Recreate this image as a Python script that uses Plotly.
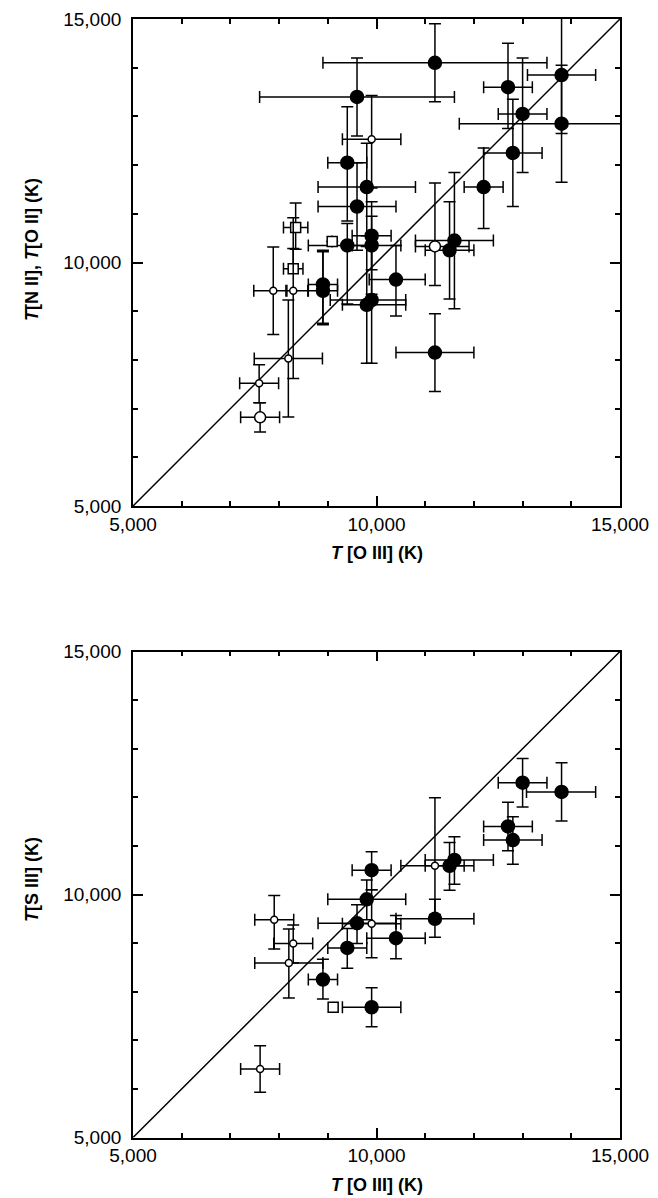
import plotly.graph_objects as go

# ---------------- Top panel: T[N II], T[O II] vs T[O III] ----------------
top_filled_x = [11200, 9600, 12700, 13800, 13000, 13800, 12800, 12200, 9400, 9800, 9600,
                9900, 9400, 9900, 11600, 11500, 10400, 11200, 8900, 8900, 9800, 9900]
top_filled_y = [14100, 13400, 13600, 13850, 13050, 12850, 12250, 11550, 12050, 11550, 11150,
                10550, 10350, 10350, 10450, 10250, 9650, 8150, 9550, 9420, 9130, 9230]
top_filled_xm = [2300, 2000, 500, 700, 500, 2100, 600, 400, 400, 1000, 800,
                 400, 800, 400, 800, 500, 550, 800, 300, 300, 500, 850]
top_filled_xp = [2300, 2000, 500, 700, 500, 2100, 600, 400, 400, 1000, 800,
                 400, 400, 600, 800, 500, 600, 800, 300, 300, 800, 700]
top_filled_ym = [800, 800, 850, 1200, 1200, 1200, 1100, 850, 1200, 1000, 900,
                 700, 1200, 1000, 1400, 1000, 750, 800, 800, 700, 1200, 1300]
top_filled_yp = [800, 800, 900, 1200, 1150, 1200, 1100, 800, 1150, 900, 900,
                 700, 450, 600, 1400, 1000, 700, 800, 700, 800, 1200, 1200]

top_open_x = [9900, 7880, 8290, 8190, 7590]
top_open_y = [12530, 9420, 9420, 8030, 7520]
top_open_xm = [600, 400, 150, 700, 400]
top_open_xp = [600, 280, 300, 700, 400]
top_open_ym = [1000, 900, 1800, 1200, 400]
top_open_yp = [900, 900, 1500, 1200, 380]

top_big_x = [11200, 7610]
top_big_y = [10330, 6820]
top_big_xm = [400, 400]
top_big_xp = [700, 400]
top_big_ym = [800, 300]
top_big_yp = [1300, 300]

top_sq_x = [8340, 9090, 8290]
top_sq_y = [10720, 10430, 9870]
top_sq_xm = [250, 0, 200]
top_sq_xp = [250, 0, 200]
top_sq_ym = [450, 0, 0]
top_sq_yp = [500, 0, 420]

# ---------------- Bottom panel: T[S III] vs T[O III] ----------------
bot_filled_x = [13000, 13800, 12700, 12800, 11600, 11500, 9900, 9800, 9600, 11200,
                10400, 9400, 8900, 9900]
bot_filled_y = [12300, 12110, 11400, 11120, 10710, 10590, 10500, 9900, 9410, 9500,
                9100, 8900, 8250, 7680]
bot_filled_xm = [500, 720, 500, 600, 600, 500, 400, 800, 800, 800, 600, 400, 300, 600]
bot_filled_xp = [500, 700, 500, 600, 800, 500, 400, 800, 800, 800, 600, 400, 300, 600]
bot_filled_ym = [500, 600, 500, 500, 500, 500, 400, 420, 420, 380, 420, 420, 400, 400]
bot_filled_yp = [500, 600, 500, 480, 480, 480, 380, 400, 380, 400, 470, 400, 420, 400]

bot_open_x = [11200, 9900, 7900, 8290, 8200, 7610]
bot_open_y = [10590, 9400, 9480, 8990, 8590, 6410]
bot_open_xm = [700, 600, 400, 400, 700, 400]
bot_open_xp = [600, 600, 400, 400, 700, 400]
bot_open_ym = [1000, 700, 600, 400, 720, 480]
bot_open_yp = [1400, 700, 500, 380, 700, 480]

bot_sq_x = [9110]
bot_sq_y = [7680]

axis_min, axis_max = 5000, 15000
tick_vals = [5000, 10000, 15000]
tick_text = ["5,000", "10,000", "15,000"]

fig = go.Figure()


def add_series(xs, ys, xm, xp, ym, yp, symbol, size, fill, xa, ya):
    err_common = dict(type="data", symmetric=False, color="black", thickness=1.5, width=6)
    kwargs = dict(x=xs, y=ys, mode="markers", xaxis=xa, yaxis=ya, showlegend=False,
                  marker=dict(symbol=symbol, size=size, color=fill,
                              line=dict(color="black", width=1.5)))
    if xm is not None:
        kwargs["error_x"] = dict(array=xp, arrayminus=xm, **err_common)
        kwargs["error_y"] = dict(array=yp, arrayminus=ym, **err_common)
    fig.add_trace(go.Scatter(**kwargs))


for xa, ya in [("x", "y"), ("x2", "y2")]:
    fig.add_trace(go.Scatter(x=[axis_min, axis_max], y=[axis_min, axis_max], mode="lines",
                             line=dict(color="black", width=1.5), xaxis=xa, yaxis=ya,
                             showlegend=False, hoverinfo="skip"))

add_series(top_filled_x, top_filled_y, top_filled_xm, top_filled_xp, top_filled_ym,
           top_filled_yp, "circle", 13, "black", "x", "y")
add_series(top_sq_x, top_sq_y, top_sq_xm, top_sq_xp, top_sq_ym, top_sq_yp,
           "square", 10, "white", "x", "y")
add_series(top_open_x, top_open_y, top_open_xm, top_open_xp, top_open_ym, top_open_yp,
           "circle", 7, "white", "x", "y")
add_series(top_big_x, top_big_y, top_big_xm, top_big_xp, top_big_ym, top_big_yp,
           "circle", 11, "white", "x", "y")

add_series(bot_filled_x, bot_filled_y, bot_filled_xm, bot_filled_xp, bot_filled_ym,
           bot_filled_yp, "circle", 13, "black", "x2", "y2")
add_series(bot_open_x, bot_open_y, bot_open_xm, bot_open_xp, bot_open_ym, bot_open_yp,
           "circle", 7, "white", "x2", "y2")
add_series(bot_sq_x, bot_sq_y, None, None, None, None, "square", 10, "white", "x2", "y2")

W, H = 658, 1198
xdom = [133 / W, 620 / W]
ydom_top = [1 - 506 / H, 1 - 19 / H]
ydom_bot = [1 - 1137.5 / H, 1 - 651.5 / H]

tick_font = dict(family="Liberation Sans, Arial, sans-serif", size=19, color="black")


def axis_style(domain, anchor, standoff):
    return dict(domain=domain, anchor=anchor, range=[axis_min, axis_max],
                tickmode="array", tickvals=tick_vals, ticktext=tick_text,
                ticks="inside", ticklen=10, tickwidth=1.5, tickcolor="black",
                showline=True, linecolor="black", linewidth=1.8, mirror="allticks",
                showgrid=False, zeroline=False, tickfont=tick_font,
                ticklabelstandoff=standoff, automargin=False,
                minor=dict(dtick=1000, tick0=5000, ticks="inside", ticklen=5,
                           tickwidth=1.5, tickcolor="black", showgrid=False))


fig.update_layout(
    width=W, height=H,
    margin=dict(l=0, r=0, t=0, b=0, pad=0, autoexpand=False),
    paper_bgcolor="white", plot_bgcolor="white",
    xaxis=axis_style(xdom, "y", 0),
    yaxis=axis_style(ydom_top, "x", 6),
    xaxis2=axis_style(xdom, "y2", 0),
    yaxis2=axis_style(ydom_bot, "x2", 6),
)

title_font = dict(family="Liberation Sans, Arial, sans-serif", size=18, color="black")
xc = (133 + 620) / 2 / W
annos = [
    dict(text="<b><i>T</i> [O III] (K)</b>", x=xc, y=1 - 553 / H),
    dict(text="<b><i>T</i> [O III] (K)</b>", x=xc, y=1 - 1185 / H),
    dict(text="<b><i>T</i>[N II], <i>T</i>[O II] (K)</b>", x=32 / W, y=1 - 250 / H, textangle=-90),
    dict(text="<b><i>T</i>[S III] (K)</b>", x=32 / W, y=1 - 880 / H, textangle=-90),
]
for a in annos:
    fig.add_annotation(xref="paper", yref="paper", showarrow=False, font=title_font,
                       xanchor="center", yanchor="middle", **a)

fig.write_html("out.html")
